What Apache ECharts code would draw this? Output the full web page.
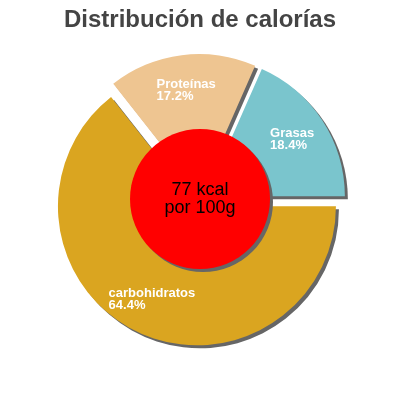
<!DOCTYPE html>
<html>
<head>
<meta charset="utf-8">
<script src="https://cdn.jsdelivr.net/npm/echarts@6/dist/echarts.min.js"></script>
<style>
html,body{margin:0;padding:0;background:#fff}
#chart{width:400px;height:400px}
</style>
</head>
<body>
<div id="chart"></div>
<script>
var titleText = 'Distribución de calorías';
var categories = ['Grasas', 'Proteínas', 'carbohidratos'];
var percents = [18.4, 17.2, 64.4];
var colors = ['#7AC5CD', '#EEC591', '#DAA520'];
var energyLines = ['77 kcal', 'por 100g'];

var font = '"Liberation Sans", Arial, sans-serif';
var slices = [];
var shadows = [];
for (var i = 0; i < categories.length; i++) {
	slices.push({
		name: categories[i],
		value: percents[i],
		selected: true,
		itemStyle: {color: colors[i]}
	});
	shadows.push({name: categories[i], value: percents[i], selected: true});
}

var mychart = echarts.init(document.getElementById('chart'));
var option = {
	animation: false,
	title: {
		text: titleText,
		left: 'center',
		top: 3,
		textStyle: {
			color: '#444',
			fontSize: 24,
			fontWeight: 'bold',
			fontFamily: font
		}
	},
	series: [
		// gray shadows drawn under every slice
		{
			type: 'pie',
			silent: true,
			z: 1,
			center: [203, 203],
			radius: [0, 139],
			startAngle: 0,
			clockwise: false,
			selectedMode: 'multiple',
			selectedOffset: 7,
			itemStyle: {color: '#666'},
			select: {itemStyle: {color: '#666', borderWidth: 0}},
			label: {show: false},
			labelLine: {show: false},
			data: shadows
		},
		{
			type: 'pie',
			silent: true,
			z: 2,
			center: [200, 200],
			radius: [61, 139],
			startAngle: 0,
			clockwise: false,
			selectedMode: 'multiple',
			selectedOffset: 7,
			avoidLabelOverlap: false,
			select: {itemStyle: {borderWidth: 0}, label: {color: '#fff'}},
			label: {
				show: true,
				position: 'inside',
				formatter: function(p) {
					return '{a|' + p.name + '}\n{a|' + p.value + '%}';
				},
				rich: {
					a: {
						color: '#fff',
						fontSize: 13,
						fontWeight: 'bold',
						fontFamily: font,
						lineHeight: 12,
						align: 'left'
					}
				}
			},
			labelLine: {show: false},
			data: slices
		},
		// red centre disc
		{
			type: 'pie',
			silent: true,
			z: 10,
			center: [200, 199],
			radius: [0, 70],
			itemStyle: {
				color: '#ff0000',
				shadowColor: '#666',
				shadowOffsetX: 3,
				shadowOffsetY: 3,
				shadowBlur: 0
			},
			label: {
				show: true,
				position: 'center',
				formatter: energyLines.join('\n'),
				color: '#000',
				fontSize: 18,
				lineHeight: 18,
				fontFamily: font
			},
			labelLine: {show: false},
			data: [{name: 'energia', value: 1}]
		}
	]
};
mychart.setOption(option);
</script>
</body>
</html>
